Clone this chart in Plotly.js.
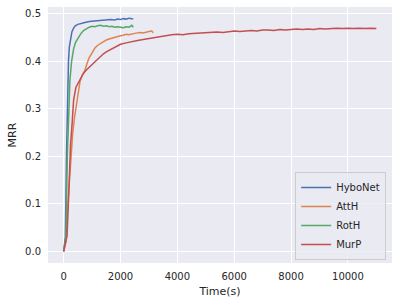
<!DOCTYPE html>
<html>
<head>
<meta charset="utf-8">
<script src="https://cdn.plot.ly/plotly-3.0.1.min.js"></script>
<style>body{margin:0;padding:0;background:#fff;} #chart{width:399px;height:305px;}</style>
</head>
<body>
<div id="chart"></div>
<script>
const hyboT = [0,60,100,140,170,200,240,290,350,410,500,600,750,900,1050,1200,1350,1500,1650,1800,1900,2000,2100,2200,2300,2400,2450];
const hyboY = [0,0.03,0.2,0.33,0.40,0.43,0.45,0.462,0.47,0.475,0.478,0.480,0.482,0.484,0.485,0.486,0.486,0.487,0.488,0.487,0.489,0.488,0.490,0.489,0.491,0.490,0.489];

const atthT = [0,80,160,220,260,320,390,450,500,580,650,740,820,900,1000,1100,1200,1300,1400,1500,1600,1700,1800,1900,2000,2100,2200,2300,2400,2500,2600,2700,2800,2900,3000,3100,3150];
const atthY = [0,0.02,0.11,0.17,0.2,0.25,0.285,0.31,0.327,0.359,0.37,0.38,0.395,0.408,0.418,0.428,0.434,0.438,0.442,0.445,0.447,0.449,0.451,0.452,0.454,0.455,0.457,0.456,0.458,0.459,0.460,0.461,0.460,0.462,0.463,0.464,0.460];

const rothT = [0,80,130,170,220,280,350,420,525,600,700,800,900,1000,1100,1200,1300,1400,1500,1600,1700,1800,1900,2000,2100,2200,2300,2400,2450];
const rothY = [0,0.03,0.2,0.3,0.36,0.40,0.426,0.44,0.451,0.458,0.465,0.469,0.472,0.474,0.473,0.475,0.476,0.474,0.475,0.473,0.474,0.472,0.473,0.472,0.471,0.473,0.472,0.476,0.472];

const murpT = [0,120,180,240,300,350,430,520,600,700,800,900,1000,1100,1200,1300,1400,1500,1600,1700,1800,1900,2000,2200,2400,2600,2800,3000,3200,3400,3600,3800,4000,4200,4400,4600,4800,5000,5200,5400,5600,5800,6000,6200,6400,6600,6800,7000,7200,7400,7600,7800,8000,8200,8400,8600,8800,9000,9200,9400,9600,9800,10000,10200,10400,10600,10800,11000];
const murpY = [0,0.032,0.12,0.222,0.271,0.318,0.345,0.356,0.366,0.375,0.382,0.388,0.394,0.400,0.405,0.411,0.416,0.420,0.423,0.427,0.430,0.433,0.436,0.439,0.442,0.444,0.446,0.448,0.451,0.453,0.454,0.456,0.457,0.456,0.458,0.459,0.460,0.460,0.461,0.462,0.461,0.463,0.464,0.463,0.464,0.465,0.464,0.466,0.466,0.465,0.467,0.466,0.467,0.468,0.467,0.468,0.467,0.469,0.468,0.469,0.470,0.469,0.470,0.469,0.470,0.469,0.470,0.469];

const seriesNames = ["HyboNet","AttH","RotH","MurP"];
const seriesColors = ["#4C72B0","#DD8452","#55A868","#C44E52"];
const xTicks = [0,2000,4000,6000,8000,10000];
const yTicks = [0,0.1,0.2,0.3,0.4,0.5];

const xs = [hyboT, atthT, rothT, murpT];
const ys = [hyboY, atthY, rothY, murpY];
const traces = seriesNames.map((n,i)=>({
  x: xs[i], y: ys[i], name: n, type:'scatter', mode:'lines',
  line:{color:seriesColors[i], width:1.5}
}));

const tickFont = {family:'DejaVu Sans', size:10, color:'#262626'};
const layout = {
  width:399, height:305,
  margin:{l:48, r:7, t:7, b:42, pad:0},
  paper_bgcolor:'#ffffff',
  plot_bgcolor:'#EAEAF2',
  font:{family:'DejaVu Sans', size:10, color:'#262626'},
  showlegend:true,
  xaxis:{
    range:[-550,11550], tickvals:xTicks, ticktext:xTicks.map(String),
    showgrid:true, gridcolor:'#ffffff', gridwidth:1, zeroline:false,
    showline:false, ticks:'outside', ticklen:4, tickcolor:'rgba(0,0,0,0)',
    tickfont:tickFont,
    title:{text:'Time(s)', font:{family:'DejaVu Sans', size:11, color:'#262626'}, standoff:6}
  },
  yaxis:{
    range:[-0.0245,0.5145], tickvals:yTicks, ticktext:yTicks.map(v=>v.toFixed(1)),
    showgrid:true, gridcolor:'#ffffff', gridwidth:1, zeroline:false,
    showline:false, ticks:'outside', ticklen:4, tickcolor:'rgba(0,0,0,0)',
    tickfont:tickFont,
    title:{text:'MRR', font:{family:'DejaVu Sans', size:11, color:'#262626'}, standoff:6}
  },
  legend:{
    x:0.983, y:0.012, xanchor:'right', yanchor:'bottom',
    bgcolor:'rgba(234,234,242,0.8)', bordercolor:'#cccccc', borderwidth:1,
    font:{family:'DejaVu Sans', size:10, color:'#262626'},
    tracegroupgap:0, itemwidth:30
  }
};
Plotly.newPlot('chart', traces, layout, {displayModeBar:false, staticPlot:true});
</script>
</body>
</html>
